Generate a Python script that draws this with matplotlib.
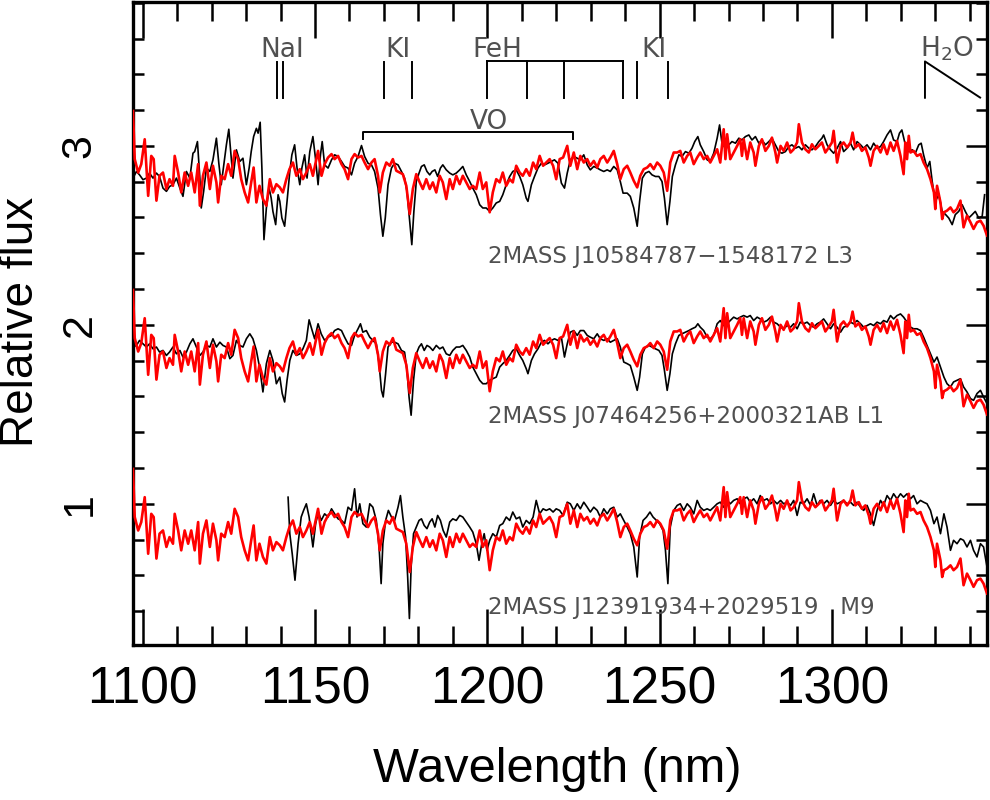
import matplotlib
matplotlib.use("Agg")
import matplotlib.pyplot as plt
from matplotlib.ticker import MultipleLocator, FixedLocator

# ---------------- data ----------------
# red comparison template (normalised, same in every panel, offset by 1)
red_wl = [1097.2,1097.7,1098.7,1099.6,1100.6,1101.6,1102.5,1103.2,1104.0,1104.9,1105.9,1106.9,1107.8,1108.8,1109.3,1110.3,1111.2,1112.2,1113.2,1114.1,1115.1,1116.1,1116.6,1117.5,1118.5,1119.5,1120.4,1121.4,1121.9,1122.8,1123.8,1124.8,1125.7,1126.7,1127.7,1128.6,1129.6,1130.6,1131.5,1132.2,1133.0,1133.9,1134.9,1135.9,1136.9,1137.8,1138.8,1139.8,1140.7,1141.7,1142.6,1143.6,1144.6,1145.6,1146.5,1147.5,1148.5,1149.4,1150.4,1150.9,1151.9,1152.8,1153.8,1154.8,1155.7,1156.7,1157.7,1158.6,1159.6,1160.6,1161.5,1162.5,1163.5,1164.4,1165.4,1166.4,1167.3,1168.3,1168.8,1169.7,1170.7,1171.7,1172.6,1173.6,1174.6,1175.5,1176.5,1177.5,1178.4,1179.4,1180.4,1181.3,1182.3,1183.3,1184.2,1185.2,1186.2,1187.1,1188.1,1189.1,1190.0,1191.0,1192.0,1192.9,1193.9,1194.9,1195.8,1196.8,1197.8,1198.7,1199.7,1200.7,1201.6,1202.6,1203.6,1204.5,1205.5,1206.5,1207.4,1208.4,1209.4,1210.3,1211.3,1212.3,1213.3,1214.2,1215.2,1216.2,1217.1,1218.1,1219.1,1220.0,1221.0,1222.0,
          1223.2,1224.1,1225.1,1226.1,1227.0,1228.0,1229.0,1229.9,1230.9,1231.9,1232.8,1233.8,1234.8,1235.7,1236.7,1237.7,1238.6,1239.6,1240.6,1241.5,1242.5,1243.5,1244.4,1245.4,1246.4,1247.3,1248.3,1249.3,1250.2,1251.2,1252.2,1253.1,1254.1,1255.1,1256.0,1257.0,1258.0,1258.9,1259.9,1260.9,1261.8,1262.8,1263.8,1264.7,1265.7,1266.7,1267.6,1268.6,1269.1,1269.6,1270.5,1271.5,1272.5,1273.4,1273.9,1274.4,1275.4,1276.3,1277.3,1277.8,1278.8,1279.7,1280.7,1281.7,1282.6,1283.6,1284.1,1285.1,1286.0,1287.0,1288.0,1288.9,1289.9,1290.4,1291.3,1292.3,1293.3,1294.2,1295.2,1296.2,1297.1,1298.1,1299.1,1300.0,1300.5,1301.5,1302.5,1303.4,1304.4,1305.4,1306.0,1306.8,1307.8,1308.7,1309.7,1310.7,1311.2,1312.1,1313.1,1314.1,1315.0,1316.0,1317.0,1317.9,1318.9,1319.9,1320.8,1321.3,1321.8,1322.3,1322.8,1323.7,1324.7,1325.7,1326.6,1327.6,1328.6,1329.6,1330.0,1330.5,1331.5,1332.0,1332.5,1333.4,1334.4,1335.3,1336.3,1337.3,1338.2,1339.2,1340.2,1341.1,1342.1,1343.1,1344.0,1345.0]
red_flux = [1.195,0.926,0.851,0.898,1.037,0.721,0.944,0.926,0.694,0.833,0.851,0.759,0.814,0.777,0.944,0.851,0.740,0.851,0.777,0.851,0.740,0.898,0.666,0.833,0.907,0.759,0.889,0.796,0.684,0.833,0.814,0.898,0.833,0.972,0.926,0.814,0.740,0.684,0.796,0.879,0.684,0.777,0.703,0.666,0.814,0.740,0.786,0.768,0.740,0.814,0.870,0.907,0.833,0.870,0.814,0.851,0.898,0.833,0.926,0.972,0.833,0.898,0.935,0.954,0.926,0.944,0.898,0.870,0.814,0.926,0.954,0.935,0.944,0.907,0.870,0.907,0.926,0.833,0.740,0.851,0.907,0.889,0.926,0.861,0.851,0.842,0.777,0.619,0.759,0.842,0.796,0.759,0.814,0.759,0.796,0.740,0.833,0.796,0.703,0.814,0.759,0.833,0.786,0.833,0.796,0.759,0.777,0.759,0.851,0.759,0.796,0.629,0.740,0.814,0.796,0.851,0.777,0.814,0.796,0.889,0.851,0.833,0.870,0.833,0.907,0.870,0.944,0.889,0.907,0.926,0.889,0.814,0.926,0.935,
            1.000,0.889,0.963,0.870,0.944,0.907,0.926,0.889,0.916,0.879,0.926,0.944,0.907,0.935,0.972,0.898,0.814,0.870,0.889,0.851,0.805,0.768,0.833,0.870,0.879,0.898,0.870,0.907,0.889,0.851,0.749,0.907,0.963,0.963,0.972,0.907,0.944,0.963,0.898,0.935,0.963,0.926,0.944,0.907,0.944,0.981,0.907,1.093,0.926,1.065,0.926,0.963,1.000,1.037,0.944,1.037,0.926,1.019,0.963,0.889,1.000,1.037,0.972,1.000,1.046,0.963,0.907,1.000,0.972,1.019,0.963,0.981,1.019,1.121,1.019,0.981,0.963,1.009,0.981,1.000,1.019,0.963,0.991,1.019,1.084,0.907,1.000,1.019,0.991,1.019,1.074,0.991,1.009,0.972,0.991,0.935,0.889,0.972,1.000,0.963,1.009,0.954,1.019,0.972,1.028,0.944,0.842,1.019,0.926,1.056,0.963,0.972,0.944,0.954,0.907,0.870,0.814,0.740,0.647,0.777,0.684,0.591,0.629,0.638,0.656,0.629,0.647,0.694,0.545,0.610,0.573,0.536,0.573,0.582,0.554,0.499]

# 2MASS J10584787-1548172 (L3), normalised
l3_wl = [1097.2,1098.2,1099.1,1100.1,1101.1,1102.0,1103.0,1104.0,1104.9,1105.9,1106.9,1107.8,1108.8,1109.8,1110.8,1111.7,1112.7,1113.7,1114.6,1115.1,1115.9,1116.6,1117.0,1117.7,1118.5,1119.5,1120.4,1121.4,1122.1,1122.8,1123.5,1124.3,1125.0,1125.7,1126.2,1127.2,1128.2,1129.1,1130.1,1130.9,1131.5,1132.2,1133.0,1133.5,1134.1,1134.6,1135.2,1135.9,1136.7,1137.3,1137.8,1138.6,1139.3,1139.8,1140.4,1141.2,1141.9,1142.7,1143.3,1144.1,1144.8,1145.6,1146.2,1147.0,1147.7,1148.5,1149.4,1150.2,1150.9,1151.6,1152.1,1152.8,1153.8,1154.8,1155.7,1156.7,1157.7,1158.6,1159.6,1160.6,1161.5,1162.5,1163.5,1164.4,1165.4,1166.4,1167.3,1168.3,1169.0,1169.7,1170.4,1171.2,1172.2,1173.1,1174.1,1175.1,1176.0,1176.7,1177.5,1178.1,1178.7,1179.4,1180.2,1180.9,1181.7,1182.5,1183.3,1184.0,1184.8,1185.6,1186.4,1187.1,1188.1,1189.1,1190.0,1191.0,1192.0,1192.9,1193.9,1194.9,1195.8,1196.8,1197.8,1198.7,1199.7,1200.7,1201.6,1202.6,1203.6,1204.5,1205.5,1206.5,1207.4,1208.4,1209.4,1210.3,1211.3,1211.8,1212.8,1213.7,1214.7,1215.7,1216.6,1217.6,1218.6,1219.5,1220.5,1221.5,
         1222.4,1223.2,1224.1,1225.1,1226.1,1227.0,1228.0,1229.0,1229.9,1230.9,1231.9,1232.8,1233.8,1234.8,1235.7,1236.7,1237.7,1238.6,1239.4,1240.6,1241.5,1242.5,1243.5,1244.2,1245.0,1245.9,1246.9,1247.8,1248.8,1249.8,1250.7,1251.4,1252.2,1253.0,1253.7,1254.6,1255.6,1256.5,1257.5,1258.5,1259.4,1260.2,1261.1,1261.8,1262.8,1263.8,1264.7,1265.7,1266.7,1267.4,1268.1,1269.1,1270.1,1271.0,1272.0,1273.0,1273.9,1274.9,1275.9,1276.8,1277.8,1278.8,1279.7,1280.7,1281.7,1282.6,1283.6,1284.6,1285.5,1286.5,1287.5,1288.4,1289.4,1290.4,1291.3,1292.3,1293.3,1294.2,1295.2,1296.2,1297.1,1297.6,1298.6,1299.6,1300.5,1301.5,1302.5,1303.4,1304.4,1305.4,1306.3,1307.3,1308.3,1309.2,1310.2,1311.2,1312.1,1313.1,1314.1,1315.0,1316.0,1317.0,1317.9,1318.9,1319.6,1320.3,1321.3,1322.3,1323.3,1324.2,1325.2,1325.9,1326.6,1327.6,1328.4,1329.1,1330.0,1331.0,1332.0,1333.0,1333.9,1334.9,1335.8,1336.8,1337.8,1338.7,1339.7,1340.7,1341.6,1342.6,1343.6,1344.3]
l3_flux = [0.820,0.857,0.838,0.811,0.820,0.848,0.820,0.848,0.829,0.764,0.746,0.773,0.783,0.820,0.764,0.718,0.857,0.820,0.959,0.968,1.024,0.820,0.653,0.746,0.876,0.857,0.922,1.043,0.903,0.783,0.885,1.006,1.093,0.931,0.820,0.978,0.913,0.931,0.783,0.876,0.968,1.052,1.098,1.071,1.132,0.876,0.476,0.653,0.764,0.708,0.634,0.560,0.727,0.690,0.597,0.551,0.690,0.857,0.950,1.006,0.876,0.783,0.876,0.950,0.820,0.968,1.052,0.922,0.783,0.950,1.024,0.894,0.876,0.922,0.950,0.941,0.913,0.885,0.876,0.838,0.903,0.941,1.002,0.941,0.903,0.894,0.857,0.764,0.616,0.495,0.597,0.783,0.876,0.903,0.894,0.857,0.820,0.746,0.578,0.448,0.634,0.801,0.848,0.885,0.894,0.857,0.838,0.857,0.866,0.829,0.876,0.894,0.866,0.848,0.838,0.848,0.866,0.885,0.838,0.801,0.764,0.727,0.671,0.653,0.653,0.634,0.653,0.681,0.690,0.727,0.783,0.829,0.857,0.866,0.829,0.783,0.708,0.690,0.783,0.829,0.876,0.903,0.894,0.903,0.913,0.922,0.903,0.792,
           0.764,0.848,0.922,0.941,0.931,0.922,0.950,0.894,0.866,0.885,0.876,0.866,0.857,0.866,0.857,0.885,0.866,0.801,0.736,0.736,0.718,0.653,0.551,0.690,0.820,0.848,0.857,0.838,0.829,0.829,0.801,0.708,0.560,0.690,0.829,0.894,0.950,0.941,0.968,0.959,0.987,1.024,1.052,1.006,0.968,0.922,0.913,0.959,1.043,1.117,1.015,0.987,1.006,1.024,1.015,1.043,1.033,1.052,1.061,1.033,1.052,1.015,1.033,1.006,1.024,1.043,1.006,0.968,0.959,0.968,0.996,1.006,0.987,0.996,0.978,1.006,0.987,0.978,0.996,1.024,1.043,1.061,1.006,0.978,0.959,0.987,1.024,0.968,0.987,1.015,0.978,1.024,1.006,0.987,1.006,0.978,1.015,0.987,0.996,1.024,1.061,1.089,1.033,1.024,1.071,1.089,1.006,0.968,0.978,0.959,1.006,1.015,0.950,0.876,0.913,0.801,0.690,0.727,0.634,0.616,0.597,0.560,0.616,0.634,0.671,0.634,0.597,0.616,0.634,0.597,0.606,0.727]

# 2MASS J07464256+2000321AB (L1), normalised
l1_wl = [1097.2,1098.2,1099.1,1100.1,1101.1,1102.0,1103.0,1104.0,1104.9,1105.9,1106.9,1107.8,1108.8,1109.8,1110.8,1111.7,1112.7,1113.7,1114.6,1115.6,1116.6,1117.5,1118.5,1119.5,1120.4,1121.4,1122.4,1123.3,1124.3,1125.3,1126.2,1127.2,1128.2,1129.1,1130.1,1131.1,1132.0,1133.0,1134.0,1134.9,1135.9,1136.9,1137.8,1138.8,1139.8,1140.5,1141.2,1141.9,1142.7,1143.6,1144.6,1145.6,1146.5,1147.5,1148.3,1148.9,1149.9,1150.9,1151.8,1152.8,1153.8,1154.8,1155.7,1156.7,1157.7,1158.6,1159.6,1160.6,1161.5,1162.5,1163.2,1163.9,1164.9,1165.9,1166.8,1167.8,1168.6,1169.3,1169.8,1170.5,1171.2,1172.2,1173.1,1174.1,1175.1,1176.0,1176.7,1177.3,1177.9,1178.6,1179.4,1180.2,1180.9,1181.7,1182.5,1183.3,1184.2,1185.2,1186.2,1187.1,1188.1,1189.1,1190.0,1191.0,1192.0,1192.9,1193.9,1194.9,1195.8,1196.8,1197.8,1198.7,1199.7,1200.7,1201.6,1202.6,1203.6,1204.5,1205.5,1206.5,1207.4,1208.4,1209.4,1210.3,1211.3,1211.8,1212.8,1213.7,1214.7,1215.7,1216.6,1217.6,1218.6,1219.5,1220.5,1221.5,
         1222.4,1223.2,1224.1,1225.1,1226.1,1227.0,1228.0,1229.0,1229.9,1230.9,1231.9,1232.8,1233.8,1234.8,1235.7,1236.7,1237.7,1238.6,1239.6,1240.6,1241.5,1242.5,1243.5,1244.2,1245.0,1245.9,1246.9,1247.8,1248.8,1249.8,1250.7,1251.4,1252.2,1253.0,1253.7,1254.6,1255.6,1256.5,1257.5,1258.5,1259.4,1260.4,1261.1,1261.8,1262.8,1263.8,1264.7,1265.7,1266.7,1267.6,1268.6,1269.6,1270.5,1271.5,1272.5,1273.4,1274.4,1275.4,1276.3,1277.3,1278.3,1279.2,1280.2,1281.2,1282.2,1283.1,1284.1,1285.1,1286.0,1287.0,1288.0,1288.9,1289.9,1290.8,1291.8,1292.8,1293.8,1294.7,1295.7,1296.6,1297.6,1298.6,1299.6,1300.5,1301.5,1302.5,1303.4,1304.4,1305.4,1306.3,1307.3,1308.3,1309.2,1310.2,1311.2,1312.1,1313.1,1314.1,1315.0,1316.0,1317.0,1317.9,1318.9,1319.9,1320.8,1321.8,1322.8,1323.7,1324.7,1325.7,1326.6,1327.6,1328.6,1329.6,1330.5,1331.5,1332.5,1333.4,1334.4,1335.3,1336.3,1337.3,1338.2,1339.2,1340.2,1341.1,1342.1,1343.1,1344.0,1345.0]
l1_flux = [0.876,0.885,0.913,0.894,0.876,0.894,0.866,0.876,0.848,0.857,0.829,0.848,0.876,0.838,0.857,0.820,0.848,0.894,0.922,0.876,0.829,0.848,0.885,0.876,0.922,0.876,0.903,0.885,0.876,0.811,0.829,0.913,0.885,0.876,0.922,0.950,0.922,0.857,0.755,0.625,0.783,0.857,0.801,0.671,0.708,0.616,0.569,0.690,0.801,0.857,0.829,0.838,0.866,0.913,1.028,0.987,0.922,1.006,0.950,0.913,0.931,0.941,0.968,0.978,0.968,0.931,0.894,0.885,0.941,0.978,1.006,0.959,0.968,0.931,0.913,0.894,0.783,0.634,0.597,0.727,0.876,0.903,0.903,0.894,0.857,0.848,0.746,0.597,0.495,0.690,0.838,0.876,0.894,0.857,0.885,0.876,0.857,0.885,0.866,0.876,0.838,0.829,0.857,0.876,0.876,0.885,0.857,0.820,0.764,0.727,0.690,0.671,0.671,0.690,0.699,0.708,0.764,0.783,0.801,0.829,0.857,0.866,0.829,0.801,0.755,0.727,0.801,0.838,0.866,0.903,0.913,0.894,0.913,0.922,0.913,0.931,
           0.820,0.894,0.959,0.968,0.941,0.968,0.968,0.941,0.931,0.922,0.950,0.922,0.913,0.922,0.903,0.913,0.922,0.876,0.792,0.783,0.773,0.708,0.634,0.708,0.838,0.876,0.885,0.876,0.866,0.857,0.829,0.746,0.634,0.727,0.838,0.894,0.941,0.950,0.959,0.968,0.978,0.987,1.006,0.987,0.968,0.931,0.922,0.941,1.006,1.024,0.996,1.006,1.024,1.043,1.033,1.043,1.052,1.043,1.052,1.024,1.043,1.033,1.015,1.024,1.043,1.015,1.006,0.987,0.978,0.996,0.987,1.006,0.978,1.015,1.006,1.015,0.996,0.987,1.006,1.015,1.033,1.006,0.978,1.006,0.987,0.959,0.987,0.996,1.015,1.006,1.024,1.006,0.987,0.996,1.006,0.996,1.015,1.006,1.024,1.015,1.052,1.033,1.052,1.061,1.043,1.015,0.987,0.978,0.978,0.968,0.931,0.885,0.838,0.792,0.820,0.764,0.708,0.671,0.653,0.681,0.690,0.699,0.653,0.625,0.588,0.578,0.616,0.634,0.597,0.560]

# 2MASS J12391934+2029519 (M9), normalised
m9_wl = [1142.2,1142.7,1143.4,1144.2,1145.1,1146.0,1146.7,1147.5,1148.3,1148.9,1149.4,1150.2,1151.0,1151.8,1152.8,1153.8,1154.8,1155.7,1156.7,1157.7,1158.6,1159.6,1160.6,1161.5,1162.2,1163.0,1163.9,1164.9,1165.9,1166.8,1167.8,1168.6,1169.2,1169.7,1170.5,1171.3,1172.2,1173.1,1174.1,1174.8,1175.5,1176.3,1176.9,1177.4,1177.9,1178.6,1179.4,1180.2,1180.9,1181.7,1182.5,1183.3,1184.0,1184.8,1185.6,1186.4,1187.2,1188.1,1189.1,1190.0,1191.0,1192.0,1192.9,1193.9,1194.9,1195.8,1196.8,1197.6,1198.4,1199.1,1199.9,1200.7,1201.6,1202.6,1203.6,1204.5,1205.5,1206.5,1207.4,1208.4,1209.4,1210.3,1211.3,1212.3,1213.3,1214.2,1215.2,1216.2,1217.1,1218.1,1219.1,1220.0,1221.0,1222.0,
         1223.2,1224.1,1225.1,1226.1,1227.0,1228.0,1229.0,1229.9,1230.9,1231.9,1232.8,1233.8,1234.8,1235.7,1236.7,1237.7,1238.6,1239.6,1240.6,1241.5,1242.5,1243.5,1244.2,1245.2,1246.2,1247.2,1248.1,1249.1,1250.0,1251.0,1251.7,1252.4,1253.1,1254.1,1255.1,1256.0,1257.0,1258.0,1258.9,1259.9,1260.9,1261.8,1262.8,1263.8,1264.7,1265.7,1266.7,1267.6,1268.6,1269.6,1270.5,1271.5,1272.5,1273.4,1274.4,1275.4,1276.3,1277.3,1278.3,1279.2,1280.2,1281.2,1282.2,1283.1,1284.1,1285.1,1286.0,1287.0,1288.0,1288.9,1289.9,1290.8,1291.8,1292.8,1293.8,1294.7,1295.7,1296.6,1297.6,1298.6,1299.6,1300.5,1301.5,1302.5,1303.4,1304.4,1305.4,1306.3,1307.3,1308.3,1309.2,1310.2,1311.2,1312.1,1313.1,1314.1,1315.0,1316.0,1317.0,1317.9,1318.9,1319.9,1320.8,1321.8,1322.8,1323.7,1324.7,1325.7,1326.6,1327.6,1328.6,1329.6,1330.5,1331.5,1332.5,1333.4,1334.4,1335.3,1336.3,1337.3,1338.2,1339.2,1340.2,1341.1,1342.1,1343.1,1344.0,1345.0]
m9_flux = [1.037,0.833,0.721,0.573,0.777,0.926,0.963,1.000,0.926,0.833,0.759,0.889,0.954,0.907,0.944,0.926,0.972,0.944,0.916,0.907,0.889,0.981,0.963,1.084,0.926,1.000,0.889,0.870,1.000,0.981,0.907,0.759,0.554,0.777,0.907,0.963,0.926,0.907,0.981,1.046,0.926,0.814,0.591,0.359,0.647,0.833,0.870,0.907,0.916,0.879,0.861,0.898,0.916,0.870,0.935,0.907,0.851,0.814,0.898,0.916,0.907,0.935,0.926,0.898,0.870,0.842,0.777,0.684,0.777,0.833,0.740,0.796,0.833,0.814,0.879,0.889,0.926,0.907,0.954,0.916,0.926,0.870,0.907,0.889,0.926,1.019,0.944,0.972,0.963,0.972,0.954,0.972,0.963,0.935,
           1.009,1.000,0.963,1.000,0.972,1.009,0.981,0.954,0.981,0.963,0.926,0.972,0.944,0.972,0.981,0.926,0.944,0.907,0.870,0.833,0.759,0.591,0.814,0.907,0.926,0.954,0.926,0.907,0.889,0.851,0.740,0.554,0.870,0.963,0.991,1.000,0.963,1.000,0.981,0.944,1.019,0.981,0.963,0.972,0.963,0.981,1.000,1.009,0.981,1.019,1.000,1.019,1.028,1.000,1.028,1.037,1.009,1.028,1.000,1.046,1.019,1.028,1.000,1.019,1.000,1.019,1.000,1.009,0.991,1.019,0.935,1.009,1.000,1.028,0.991,1.056,0.991,1.019,1.000,1.019,0.991,1.019,1.000,1.009,1.019,1.000,1.009,0.991,1.009,0.981,0.963,0.991,0.944,0.879,0.963,1.019,0.991,1.046,1.019,1.056,1.028,1.056,1.037,1.056,1.028,1.046,1.000,1.019,1.009,1.000,0.963,0.889,0.926,0.833,0.944,0.870,0.740,0.796,0.777,0.805,0.796,0.759,0.796,0.740,0.703,0.777,0.759,0.647]

offsets = [2, 1, 0]
black_series = [(l3_wl, l3_flux), (l1_wl, l1_flux), (m9_wl, m9_flux)]
object_labels = ["2MASS J10584787\u22121548172 L3",
                 "2MASS J07464256+2000321AB L1",
                 "2MASS J12391934+2029519   M9"]
label_x = 1200.2
label_y = [2.343, 1.450, 0.387]

x_ticks = [1100, 1150, 1200, 1250, 1300]
y_ticks = [1, 2, 3]

# line identifications
nai_lines = [1138.9, 1140.8]
ki_lines_1 = [1169.9, 1178.1]
feh_lines = [1199.8, 1211.5, 1222.4, 1239.5]
ki_lines_2 = [1243.4, 1252.4]
vo_band = [1163.8, 1225.0]
h2o_band = [1327.0, 1343.0]

# ---------------- figure ----------------
for n, (w, f) in enumerate(black_series):
    assert len(w) == len(f), (n, len(w), len(f))
assert len(red_wl) == len(red_flux), (len(red_wl), len(red_flux))

plt.rcParams['mathtext.default'] = 'regular'
AXFONT = ['Liberation Sans', 'DejaVu Sans']
ANFONT = ['DejaVu Sans']
GREY = '#505050'

fig = plt.figure(figsize=(9.9, 8.0), dpi=100)
ax = fig.add_axes([133/990, 1 - 645/800, (987 - 133)/990, 643/800])

for (w, f), off in zip(black_series, offsets):
    ax.plot(w, [v + off for v in f], color='black', lw=1.2, zorder=2)
for off in offsets:
    ax.plot(red_wl, [v + off for v in red_flux], color='#ff0000', lw=1.9, zorder=3)

ax.set_xlim(1097.2, 1345.0)
ax.set_ylim(0.211, 3.804)

ax.xaxis.set_major_locator(FixedLocator(x_ticks))
ax.xaxis.set_minor_locator(MultipleLocator(10))
ax.yaxis.set_major_locator(FixedLocator(y_ticks))
ax.yaxis.set_minor_locator(MultipleLocator(0.2))
ax.set_xticklabels([str(t) for t in x_ticks])
ax.set_yticklabels([str(t) for t in y_ticks])

ax.tick_params(which='both', direction='in', top=True, right=True, width=1.8, color='black')
ax.tick_params(axis='x', which='major', length=26, pad=15)
ax.tick_params(axis='x', which='minor', length=13.5)
ax.tick_params(axis='y', which='major', length=15, pad=24)
ax.tick_params(axis='y', which='minor', length=8)
for lab in ax.get_xticklabels():
    lab.set_family(AXFONT); lab.set_fontsize(37)
for lab in ax.get_yticklabels():
    lab.set_family(AXFONT); lab.set_fontsize(31); lab.set_rotation(90)
    lab.set_va('center')
for sp in ax.spines.values():
    sp.set_linewidth(2.4)

fig.text(557/990, 1 - 770/800, 'Wavelength (nm)', family=AXFONT, fontsize=35,
         ha='center', va='center')
fig.text(21/990, 1 - 322/800, 'Relative flux', family=AXFONT, fontsize=33,
         rotation=90, ha='center', va='center')

# object labels
for txt, yy in zip(object_labels, label_y):
    ax.text(label_x, yy, txt, family=ANFONT, fontsize=16.5, color=GREY,
            ha='left', va='baseline')

# line marks
lk = dict(color='black', lw=1.4, zorder=4)
y_lo, y_hi = 3.269, 3.472
for x in nai_lines + ki_lines_1 + ki_lines_2:
    ax.plot([x, x], [y_lo, y_hi - 0.005], **lk)
for x in feh_lines:
    ax.plot([x, x], [y_lo, y_hi], **lk)
ax.plot([feh_lines[0], feh_lines[-1]], [y_hi, y_hi], **lk)
ax.plot([vo_band[0], vo_band[0], vo_band[1], vo_band[1]],
        [3.039, 3.076, 3.076, 3.039], **lk)
ax.plot([h2o_band[0], h2o_band[0], h2o_band[1]], [y_lo, y_hi, 3.27], **lk)

tk = dict(family=ANFONT, fontsize=19, color=GREY, ha='center', va='baseline')
ax.text(sum(nai_lines) / 2 + 0.6, 3.497, 'NaI', **tk)
ax.text(sum(ki_lines_1) / 2, 3.497, 'KI', **tk)
ax.text(feh_lines[0] + 3.0, 3.497, 'FeH', **tk)
ax.text(sum(ki_lines_2) / 2 + 0.6, 3.497, 'KI', **tk)
ax.text(1200.5, 3.095, 'VO', **tk)
ax.text(1333.5, 3.497, 'H$_2$O', **tk)

fig.savefig('out.png', dpi=100)
